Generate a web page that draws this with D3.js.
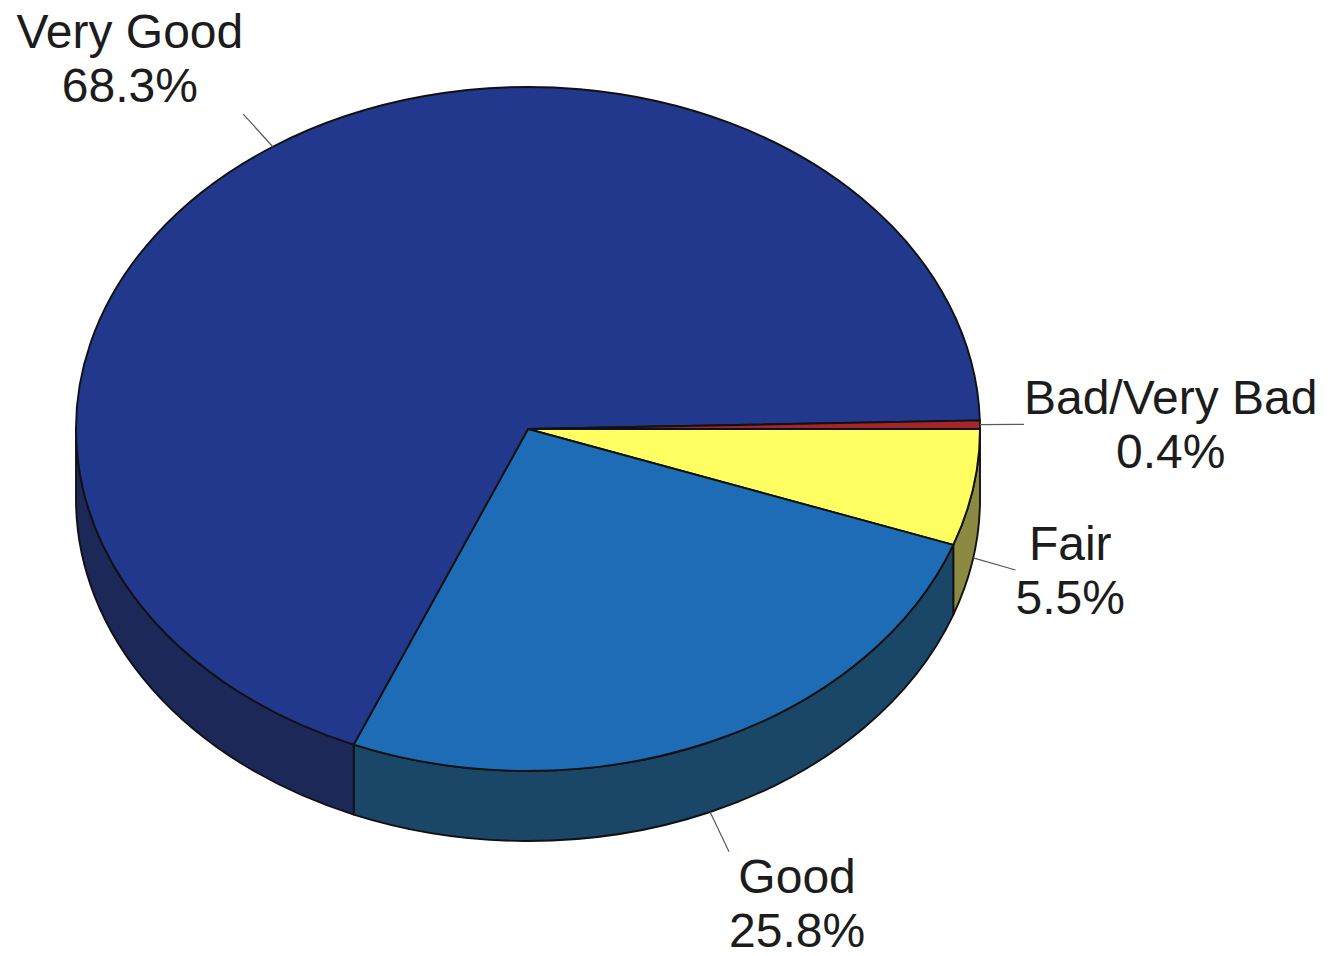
<!DOCTYPE html>
<html>
<head>
<meta charset="utf-8">
<script src="https://cdn.jsdelivr.net/npm/d3@7"></script>
<style>
  html, body { margin: 0; padding: 0; background: #ffffff; }
  text { font-family: "Liberation Sans", Arial, sans-serif; fill: #1c1c1c; }
</style>
</head>
<body>
<div id="chart"></div>
<script>
// categories and shares, clockwise from 3 o'clock
const CATEGORIES = ["Fair", "Good", "Very Good", "Bad/Very Bad"];
const PERCENTS = [5.5, 25.8, 68.3, 0.4];
const TOP_COLORS = ["#ffff62", "#1e6bb6", "#22388d", "#a5262a"];
const SIDE_COLORS = ["#8c8a42", "#1a4668", "#1b2858", "#5e1618"];

const WIDTH = 1332;
const HEIGHT = 956;
const CX = 528, CY = 429;   // centre of the top face
const RX = 452, RY = 342;   // ellipse radii
const DEPTH = 70;           // thickness of the disc
const LEADER = 44;
const FONT_SIZE = 48;
const LINE_H = 54;

const SVG = d3.select("#chart").append("svg")
  .attr("width", WIDTH)
  .attr("height", HEIGHT);

const PIE = d3.pie()
  .sort(null)
  .value(d => d.value)
  .startAngle(Math.PI / 2)
  .endAngle(Math.PI / 2 + 2 * Math.PI);

const ARCS = PIE(CATEGORIES.map((c, i) => ({
  name: c, value: PERCENTS[i], top: TOP_COLORS[i], side: SIDE_COLORS[i]
})));

// d3 angle (clockwise from 12 o'clock) -> point on the ellipse
function pt(a, dy = 0) {
  return [CX + RX * Math.sin(a), CY - RY * Math.cos(a) + dy];
}

function topPath(d) {
  const p0 = pt(d.startAngle), p1 = pt(d.endAngle);
  const large = d.endAngle - d.startAngle > Math.PI ? 1 : 0;
  return `M${CX},${CY}L${p0}A${RX},${RY} 0 ${large} 1 ${p1}Z`;
}

function sidePath(d) {
  // only the front half (3 o'clock -> 9 o'clock through the bottom) is visible
  const s = Math.max(d.startAngle, Math.PI / 2);
  const e = Math.min(d.endAngle, 3 * Math.PI / 2);
  if (e <= s) return null;
  const p0 = pt(s), p1 = pt(e), q1 = pt(e, DEPTH), q0 = pt(s, DEPTH);
  return `M${p0}A${RX},${RY} 0 0 1 ${p1}L${q1}A${RX},${RY} 0 0 0 ${q0}Z`;
}

// SIDES
SVG.append("g").selectAll("path")
  .data(ARCS.filter(d => sidePath(d)))
  .join("path")
  .attr("d", sidePath)
  .attr("fill", d => d.data.side)
  .attr("stroke", "#111")
  .attr("stroke-width", 1.9)
  .attr("stroke-linejoin", "round");

// TOPS
SVG.append("g").selectAll("path")
  .data(ARCS)
  .join("path")
  .attr("d", topPath)
  .attr("fill", d => d.data.top)
  .attr("stroke", "#111")
  .attr("stroke-width", 1.9)
  .attr("stroke-linejoin", "round");

// LABELS
const LABELS = SVG.append("g");
ARCS.forEach(d => {
  const mid = (d.startAngle + d.endAngle) / 2;
  const front = Math.cos(mid) < 0;   // lower half -> edge of the side
  const start = pt(mid, front ? DEPTH : 0);
  let ux = start[0] - CX, uy = start[1] - CY;
  const len = Math.hypot(ux, uy);
  ux /= len; uy /= len;
  const end = [start[0] + ux * LEADER, start[1] + uy * LEADER];

  LABELS.append("line")
    .attr("x1", start[0]).attr("y1", start[1])
    .attr("x2", end[0]).attr("y2", end[1])
    .attr("stroke", "#5a5a5a")
    .attr("stroke-width", 1.2);

  const text = LABELS.append("text")
    .attr("text-anchor", "middle")
    .style("font-size", FONT_SIZE + "px");
  text.append("tspan").attr("x", 0).attr("y", 0).text(d.data.name);
  text.append("tspan").attr("x", 0).attr("y", LINE_H)
    .text(d.data.value.toFixed(1) + "%");

  const w = text.node().getBBox().width;
  const capH = FONT_SIZE * 0.716;
  const tx = ux >= 0 ? end[0] + w / 2 : end[0] - w / 2;
  let ty;
  if (uy < -0.5) ty = end[1] - 12 - LINE_H;           // above
  else if (uy > 0.5) ty = end[1] + 7 + capH;           // below
  else ty = end[1] - (LINE_H - capH) / 2;              // beside, centred
  text.attr("transform", `translate(${tx},${ty})`);
});
</script>
</body>
</html>
